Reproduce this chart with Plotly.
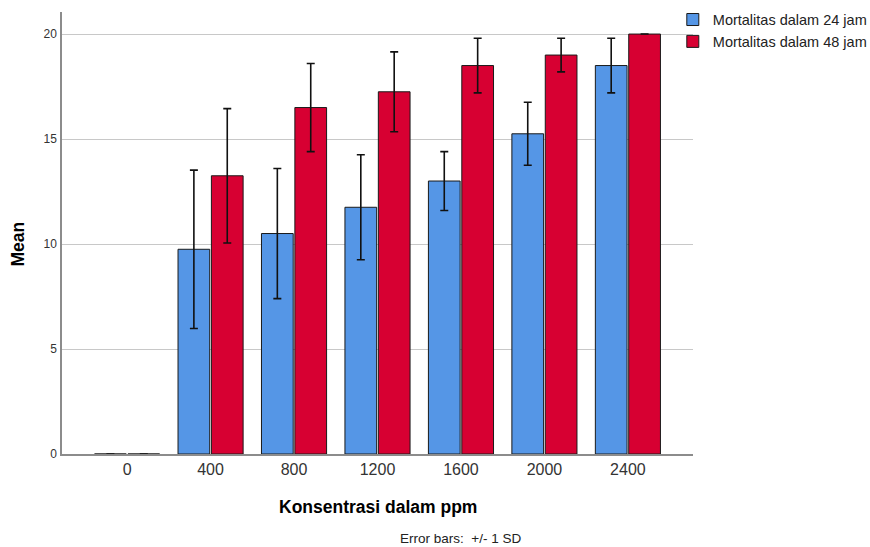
import plotly.graph_objects as go

categories = ["0", "400", "800", "1200", "1600", "2000", "2400"]
mean_24 = [0, 9.75, 10.5, 11.75, 13.0, 15.25, 18.5]
sd_24 = [0, 3.77, 3.1, 2.5, 1.4, 1.5, 1.3]
mean_48 = [0, 13.25, 16.5, 17.25, 18.5, 19.0, 20.0]
sd_48 = [0, 3.2, 2.1, 1.9, 1.3, 0.8, 0]
series_names = ["Mortalitas dalam 24 jam", "Mortalitas dalam 48 jam"]
y_ticks = [0, 5, 10, 15, 20]

font = "Liberation Sans, Arial, sans-serif"

fig = go.Figure()
for name, m, s, col in [(series_names[0], mean_24, sd_24, "#5596E6"),
                        (series_names[1], mean_48, sd_48, "#D70032")]:
    fig.add_trace(go.Bar(
        x=categories, y=m, name=name,
        marker=dict(color=col, line=dict(color="#1a1a1a", width=1)),
        error_y=dict(type="data", array=s, visible=True, color="#111111",
                     thickness=1.6, width=4),
    ))

fig.update_layout(
    width=870, height=547,
    margin=dict(l=62, r=177, t=12, b=93, autoexpand=False),
    barmode="group", bargap=0.2, bargroupgap=0.05,
    plot_bgcolor="white", paper_bgcolor="white",
    font=dict(family=font, size=13, color="#333333"),
    showlegend=True,
    legend=dict(x=0.968, y=1.019, xanchor="left", yanchor="top",
                font=dict(family=font, size=14.5, color="#222222"),
                tracegroupgap=0, itemwidth=30, bgcolor="rgba(0,0,0,0)"),
    xaxis=dict(type="category", range=[-0.78, 6.78], showgrid=False,
               showline=True, linecolor="#8c8c8c", linewidth=1.5,
               ticks="", automargin=False,
               tickfont=dict(size=16, color="#333333")),
    yaxis=dict(range=[0, 21.05], tickvals=y_ticks, showgrid=True,
               gridcolor="#c8c8c8", gridwidth=1.2,
               showline=True, linecolor="#8c8c8c", linewidth=1.5,
               ticks="", zeroline=False, automargin=False,
               ticklabelstandoff=1,
               tickfont=dict(size=12, color="#333333")),
    annotations=[
        dict(text="<b>Konsentrasi dalam ppm</b>", xref="paper", yref="paper",
             x=0.501, y=-0.12, xanchor="center", yanchor="middle",
             showarrow=False, font=dict(family=font, size=17.5, color="#000000")),
        dict(text="<b>Mean</b>", xref="paper", yref="paper", textangle=-90,
             x=-0.0697, y=0.474, xanchor="center", yanchor="middle",
             showarrow=False, font=dict(family=font, size=17.5, color="#000000")),
        dict(text="Error bars:&nbsp; +/- 1 SD", xref="paper", yref="paper",
             x=0.631, y=-0.191, xanchor="center", yanchor="middle",
             showarrow=False, font=dict(family=font, size=13.5, color="#222222")),
    ],
)

fig.write_html("out.html", config={"displayModeBar": False},
               post_script="document.body.style.margin='0';")
